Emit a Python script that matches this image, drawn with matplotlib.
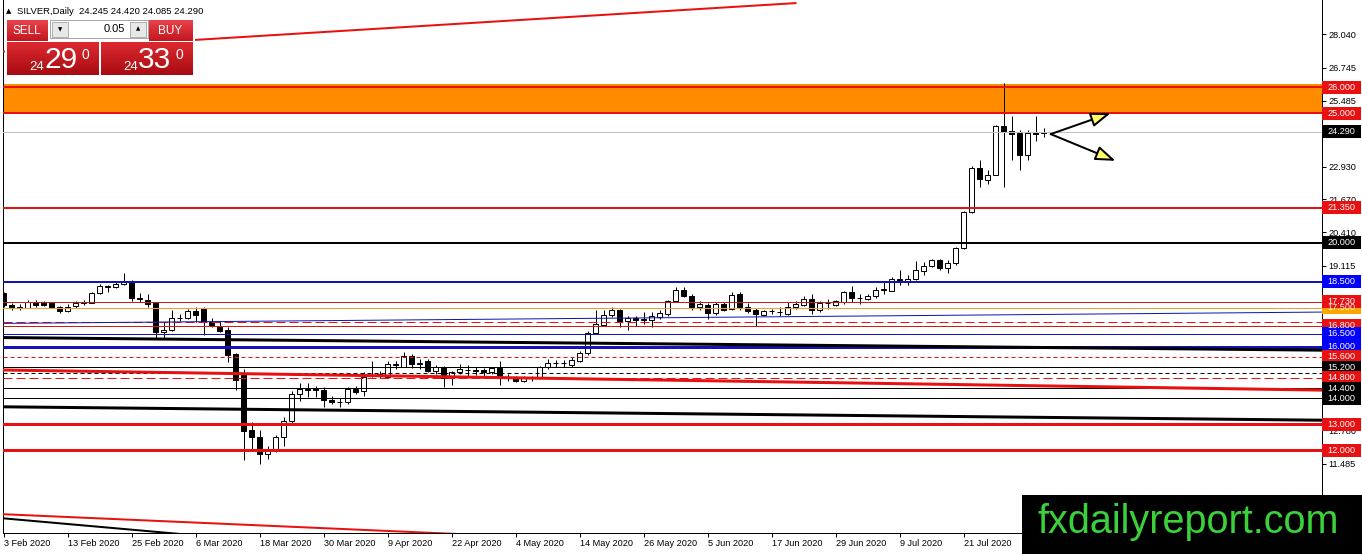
import numpy as np
import matplotlib
matplotlib.use('Agg')
import matplotlib.pyplot as plt
from matplotlib.patches import Rectangle
from matplotlib.transforms import blended_transform_factory

plt.rcParams['font.family'] = ['Liberation Sans', 'DejaVu Sans']

# SILVER daily bars, 3 Feb 2020 .. 3 Aug 2020 (bar index = trading day)
opens = [18.05, 17.60, 17.50, 17.50, 17.73, 17.68, 17.66, 17.52, 17.36, 17.55,
         17.68, 17.68, 18.06, 18.30, 18.30, 18.40, 18.52, 17.86, 17.80, 17.67,
         16.55, 16.62, 17.10, 17.10, 17.36, 17.45, 16.94, 16.80, 16.65, 15.72,
         14.95, 12.79, 12.52, 11.85, 12.00, 12.50, 13.14, 14.17, 14.33, 14.36,
         14.33, 13.94, 13.85, 13.85, 14.36, 14.27, 14.85, 14.92, 14.84, 15.30,
         15.23, 15.65, 15.33, 15.43, 15.07, 15.22, 14.79, 15.00, 15.10, 15.10,
         15.11, 15.03, 15.17, 14.84, 14.81, 14.68, 14.80, 14.79, 15.20, 15.35,
         15.35, 15.30, 15.46, 15.74, 16.52, 16.85, 17.20, 17.41, 17.00, 17.10,
         17.05, 17.03, 17.13, 17.26, 17.77, 18.18, 17.96, 17.54, 17.62, 17.28,
         17.64, 17.45, 18.03, 17.54, 17.39, 17.23, 17.36, 17.34, 17.26, 17.52,
         17.62, 17.84, 17.39, 17.67, 17.62, 17.71, 18.09, 17.88, 17.84, 17.93,
         18.18, 18.16, 18.60, 18.48, 18.61, 18.93, 19.10, 19.32, 19.03, 19.21,
         19.80, 21.18, 22.89, 22.44, 22.62, 24.49, 24.30, 24.23, 23.40, 24.25,
         24.245]
highs = [18.12, 17.68, 17.65, 17.80, 17.80, 17.76, 17.73, 17.58, 17.64, 17.76,
         17.78, 18.12, 18.40, 18.38, 18.52, 18.84, 18.57, 18.05, 18.03, 17.70,
         16.94, 17.39, 17.26, 17.45, 17.52, 17.52, 17.10, 17.00, 16.74, 15.74,
         15.13, 13.10, 12.78, 12.18, 12.60, 13.27, 14.30, 14.58, 14.58, 14.49,
         14.43, 14.10, 14.02, 14.43, 14.49, 15.00, 15.46, 15.04, 15.46, 15.43,
         15.78, 15.71, 15.52, 15.52, 15.30, 15.26, 15.07, 15.33, 15.30, 15.20,
         15.17, 15.22, 15.43, 14.94, 14.87, 14.87, 14.87, 15.26, 15.52, 15.50,
         15.50, 15.58, 15.84, 16.61, 17.41, 17.39, 17.54, 17.45, 17.16, 17.16,
         17.32, 17.32, 17.39, 17.81, 18.29, 18.29, 18.03, 17.77, 17.67, 17.71,
         17.71, 18.09, 18.09, 17.67, 17.48, 17.41, 17.45, 17.52, 17.71, 17.75,
         17.93, 18.03, 17.75, 17.84, 17.80, 18.16, 18.35, 18.03, 18.03, 18.29,
         18.48, 18.70, 18.95, 18.74, 19.28, 19.25, 19.38, 19.36, 19.32, 19.83,
         21.22, 22.95, 23.18, 22.82, 24.53, 26.16, 24.87, 24.33, 24.33, 24.87,
         24.42]
lows = [17.52, 17.42, 17.40, 17.48, 17.52, 17.55, 17.48, 17.30, 17.32, 17.50,
        17.60, 17.66, 18.03, 18.10, 18.27, 18.38, 17.77, 17.73, 17.52, 16.30,
        16.30, 16.60, 17.00, 17.05, 16.94, 16.46, 16.74, 16.55, 15.40, 14.33,
        11.63, 11.98, 11.47, 11.66, 11.95, 12.15, 13.04, 13.89, 14.07, 14.04,
        13.68, 13.78, 13.68, 13.78, 14.17, 14.10, 14.81, 14.80, 14.79, 15.13,
        15.20, 15.17, 15.13, 15.00, 14.94, 14.43, 14.53, 14.94, 14.87, 14.91,
        14.84, 14.94, 14.52, 14.68, 14.62, 14.62, 14.68, 14.75, 15.13, 15.20,
        15.20, 15.20, 15.39, 15.68, 16.49, 16.81, 17.15, 16.74, 16.62, 16.81,
        16.87, 16.74, 17.07, 17.19, 17.75, 17.90, 17.39, 17.39, 17.07, 17.23,
        17.36, 17.41, 17.39, 17.28, 16.81, 17.19, 17.26, 17.19, 17.22, 17.45,
        17.58, 17.26, 17.32, 17.45, 17.58, 17.64, 17.71, 17.64, 17.80, 17.88,
        18.03, 18.13, 18.39, 18.39, 18.58, 18.74, 19.06, 18.97, 18.83, 19.15,
        19.77, 21.15, 22.15, 22.25, 22.60, 22.17, 23.18, 22.79, 23.18, 23.91,
        24.085]
closes = [17.60, 17.50, 17.52, 17.70, 17.60, 17.60, 17.52, 17.36, 17.54, 17.68,
          17.70, 18.08, 18.35, 18.32, 18.42, 18.52, 17.86, 17.85, 17.65, 16.55,
          16.65, 17.10, 17.12, 17.36, 17.22, 16.94, 16.78, 16.60, 15.69, 14.70,
          12.75, 12.50, 11.85, 12.00, 12.52, 13.14, 14.17, 14.36, 14.36, 14.33,
          13.94, 13.85, 13.86, 14.36, 14.26, 14.81, 14.92, 14.94, 15.33, 15.32,
          15.65, 15.33, 15.35, 15.07, 15.22, 14.79, 15.00, 15.13, 15.11, 15.07,
          15.03, 15.16, 14.84, 14.79, 14.68, 14.81, 14.79, 15.20, 15.35, 15.36,
          15.36, 15.48, 15.75, 16.52, 16.87, 17.23, 17.41, 16.98, 17.10, 17.03,
          17.04, 17.16, 17.28, 17.75, 18.18, 17.94, 17.52, 17.64, 17.28, 17.64,
          17.41, 18.00, 17.52, 17.36, 17.26, 17.36, 17.37, 17.33, 17.52, 17.64,
          17.84, 17.39, 17.67, 17.68, 17.75, 18.09, 17.88, 17.87, 17.93, 18.18,
          18.20, 18.61, 18.48, 18.60, 18.96, 19.12, 19.32, 19.02, 19.21, 19.80,
          21.18, 22.89, 22.47, 22.62, 24.49, 24.31, 24.21, 23.40, 24.25, 24.18,
          24.29]

date_labels = ['3 Feb 2020', '13 Feb 2020', '25 Feb 2020', '6 Mar 2020', '18 Mar 2020',
               '30 Mar 2020', '9 Apr 2020', '22 Apr 2020', '4 May 2020', '14 May 2020',
               '26 May 2020', '5 Jun 2020', '17 Jun 2020', '29 Jun 2020', '9 Jul 2020',
               '21 Jul 2020']
date_label_bars = [0, 8, 16, 24, 32, 40, 48, 56, 64, 72, 80, 88, 96, 104, 112, 120]

price_ticks = [28.04, 26.745, 25.485, 22.93, 21.67, 20.41, 19.115, 12.78, 11.485, 10.19]

# horizontal levels (drawn in this order, labels too)
level_prices = [26.0, 25.0, 21.35, 20.0, 18.5, 17.5, 17.73, 16.8, 16.5, 16.0,
                15.6, 15.2, 14.8, 14.4, 14.0, 13.0, 12.0]
unlabelled_red_dash = 16.96
unlabelled_black_dash = 14.97
zone_low, zone_high = 25.0, 26.12
last_price = 24.29

# trend lines as (bars, prices)
top_red_line = ([-1, 99], [27.35, 29.24])
bottom_red_line = ([-1, 60], [9.55, 8.73])
bottom_black_line = ([-1, 25], [9.405, 8.695])
blue_rising_line = ([-1, 165], [16.89, 17.33])
black_upper_line = ([-1, 165], [16.35, 15.86])
red_falling_line = ([-1, 165], [15.10, 14.32])
black_lower_line = ([-1, 165], [13.68, 13.16])

arrow_start = (130.9, 24.19)
arrow_up_end = (138.4, 25.0)
arrow_down_end = (139.0, 23.16)

RED = '#e81010'
BLUE = '#1414b4'
px = 0.72  # one pixel in points at dpi 100

fig = plt.figure(figsize=(13.62, 5.54), dpi=100)
ax = fig.add_axes([2.7 / 1362, 21.3 / 554, 1318.8 / 1362, 532.7 / 554])
ax.set_xlim(-0.1, 164.75)
ax.set_ylim(8.824, 29.36)

# orange zone behind the bars
ax.axhspan(zone_low, zone_high, color='#ff8c00', lw=0, zorder=1)

# candles
o = np.array(opens); h = np.array(highs); l = np.array(lows); c = np.array(closes)
idx = np.arange(len(o))
up = c >= o
ax.vlines(idx, l, h, color='black', lw=px, zorder=3)
ax.bar(idx[up], (c - o)[up], bottom=o[up], width=0.6, color='white',
       edgecolor='black', linewidth=px, zorder=4)
ax.bar(idx[~up], (o - c)[~up], bottom=c[~up], width=0.6, color='black',
       edgecolor='black', linewidth=px, zorder=4)

# horizontal levels
level_styles = {
    26.0: (RED, 2, '-', RED), 25.0: (RED, 2, '-', RED), 21.35: (RED, 2, '-', RED),
    20.0: ('black', 2, '-', 'black'), 18.5: (BLUE, 2, '-', '#0000ff'),
    17.5: ('#f0a030', 1, '-', '#ffa500'), 17.73: ('#d01818', 1, '-', RED),
    16.8: ('#d01818', 1, '-', RED), 16.5: (BLUE, 1, '-', '#0000ff'),
    16.0: (BLUE, 3, '-', '#0000ff'), 15.6: (RED, 1, (0, (4, 3)), RED),
    15.2: ('black', 1, '-', 'black'), 14.8: (RED, 1, (0, (9, 4)), RED),
    14.4: ('black', 1, '-', 'black'), 14.0: ('black', 1, '-', 'black'),
    13.0: (RED, 3, '-', RED), 12.0: (RED, 3, '-', RED),
}
for p in level_prices:
    col, w, ls, _ = level_styles[p]
    ax.axhline(p, color=col, lw=w * px, ls=ls, zorder=5)
ax.axhline(unlabelled_red_dash, color=RED, lw=px, ls=(0, (9, 4)), zorder=5)
ax.axhline(unlabelled_black_dash, color='black', lw=px, ls=(0, (4, 3)), zorder=5)
ax.axhline(last_price, color='#c0c0c0', lw=px, zorder=5)

# trend lines
ax.plot(*top_red_line, color=RED, lw=2 * px, zorder=5)
ax.plot(*bottom_red_line, color=RED, lw=2 * px, zorder=5)
ax.plot(*bottom_black_line, color='black', lw=2 * px, zorder=5)
ax.plot(*blue_rising_line, color=BLUE, lw=px, zorder=5)
ax.plot(*black_upper_line, color='black', lw=3 * px, zorder=5)
ax.plot(*red_falling_line, color=RED, lw=3 * px, zorder=5)
ax.plot(*black_lower_line, color='black', lw=3 * px, zorder=5)

# arrows
for end in (arrow_up_end, arrow_down_end):
    ax.annotate('', xy=end, xytext=arrow_start,
                arrowprops=dict(arrowstyle='-|>,head_length=1.1,head_width=0.4',
                                fc='#ffff66', ec='black', lw=2 * px,
                                mutation_scale=11, shrinkA=0, shrinkB=0),
                zorder=6)

# axes
ax.set_xticks(date_label_bars)
ax.set_xticklabels(date_labels, ha='left', fontsize=6.6)
ax.yaxis.tick_right()
ax.set_yticks(price_ticks)
ax.set_yticklabels([f'{v:.3f}' for v in price_ticks], fontsize=6.6)
ax.tick_params(axis='both', length=3, width=px, pad=2, colors='black')
ax.tick_params(axis='x', pad=1.5)
for s in ('left', 'bottom', 'right'):
    ax.spines[s].set_linewidth(px)
ax.spines['top'].set_visible(False)

# price label boxes on the right
bt = blended_transform_factory(ax.transAxes, ax.transData)
box_h = 13 / 25.94
label_prices = [last_price] + level_prices
label_colors = ['black'] + [level_styles[p][3] for p in level_prices]
for p, col in zip(label_prices, label_colors):
    ax.add_patch(Rectangle((1.0005, p - box_h / 2), 0.0296, box_h, transform=bt,
                           fc=col, ec='none', clip_on=False, zorder=20))
    ax.text(1.0153, p, f'{p:.3f}', transform=bt, ha='center', va='center',
            fontsize=6.6, color='#fff4e0' if col == '#ffa500' else 'white',
            clip_on=False, zorder=21)

# overlay in pixel coordinates: header, trade panel, watermark
ov = fig.add_axes([0, 0, 1, 1], zorder=10)
ov.patch.set_alpha(0)
ov.axis('off')


def grad_box(x0, y0, x1, y1, top, bottom):
    c0 = np.array(matplotlib.colors.to_rgb(top))
    c1 = np.array(matplotlib.colors.to_rgb(bottom))
    t = np.linspace(0, 1, 40)[:, None, None]
    img = c0 * (1 - t) + c1 * t
    ov.imshow(img, extent=(x0, x1, y1, y0), aspect='auto', interpolation='bilinear', zorder=2)


ov.text(6, 11.5, '▲', fontsize=5, va='center', ha='left', family=['DejaVu Sans'])
ov.text(17, 11, 'SILVER,Daily  24.245 24.420 24.085 24.290', fontsize=6.8,
        va='center', ha='left')

ov.add_patch(Rectangle((5, 18), 190, 59, fc='white', ec='none', zorder=1))
grad_box(7, 20, 48, 41, '#e8424a', '#c4161e')
grad_box(149, 20, 193, 41, '#e8424a', '#c4161e')
grad_box(7, 42, 99, 75, '#dc2a30', '#a80c12')
grad_box(101, 42, 193, 75, '#dc2a30', '#a80c12')
ov.add_patch(Rectangle((50, 20), 98, 18, fc='white', ec='#a8a8a8', lw=px, zorder=3))
ov.add_patch(Rectangle((52, 21.5), 16, 15, fc='#e8e8e8', ec='#b0b0b0', lw=px, zorder=4))
ov.add_patch(Rectangle((130, 21.5), 16, 15, fc='#e8e8e8', ec='#b0b0b0', lw=px, zorder=4))
ov.text(60, 29.5, '▼', fontsize=4, ha='center', va='center', family=['DejaVu Sans'], zorder=5)
ov.text(138, 29, '▲', fontsize=4, ha='center', va='center', family=['DejaVu Sans'], zorder=5)
ov.text(125, 29.5, '0.05', fontsize=8, ha='right', va='center', zorder=5)
ov.text(27, 31, 'SELL', fontsize=8.5, color='white', ha='center', va='center', zorder=5)
ov.text(170, 31, 'BUY', fontsize=8.5, color='white', ha='center', va='center', zorder=5)
for x_small, x_big, x_sup, big in ((29, 45, 82, '29'), (123, 138, 175, '33')):
    ov.text(x_small, 70, '24', fontsize=9.5, color='white', va='baseline', zorder=5)
    ov.text(x_big, 68.5, big, fontsize=21.5, color='white', va='baseline', zorder=5)
    ov.text(x_sup, 59, '0', fontsize=10, color='white', va='baseline', zorder=5)

ov.add_patch(Rectangle((1022, 495), 340, 59, fc='black', ec='none', zorder=1))
ov.text(1038, 533, 'fxdailyreport.com', fontsize=28.5, color='#3ad13a',
        va='baseline', ha='left', zorder=5)

ov.set_xlim(0, 1362)
ov.set_ylim(554, 0)

fig.savefig('out.png', dpi=100)
